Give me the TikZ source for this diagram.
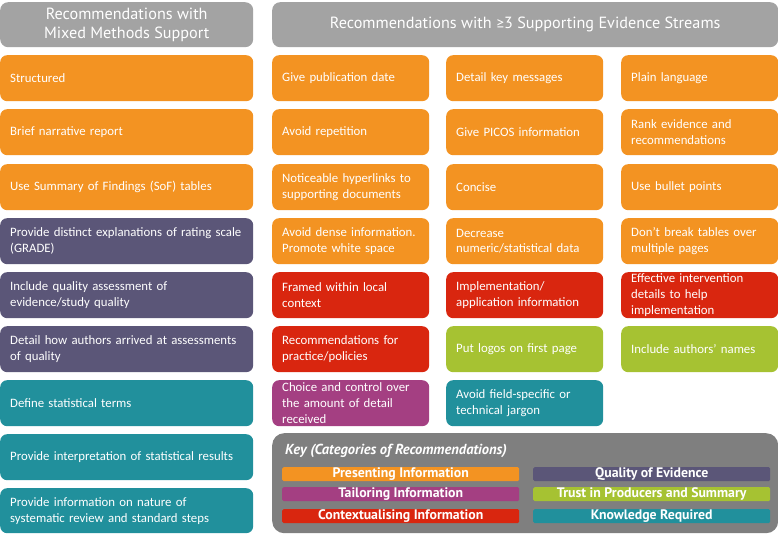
\documentclass[tikz,border=0pt]{standalone}
\usepackage{fontspec}
\setmainfont{Carlito}
\newfontfamily\hfont{PT Sans}
\definecolor{cOr}{HTML}{F39322}
\definecolor{cQu}{HTML}{5B5678}
\definecolor{cTe}{HTML}{21909C}
\definecolor{cRe}{HTML}{D9260F}
\definecolor{cGr}{HTML}{A6C232}
\definecolor{cMa}{HTML}{A43F82}
\definecolor{cHd}{HTML}{A3A3A3}
\definecolor{cKy}{HTML}{7F7F7F}
\tikzset{
  rec/.style={anchor=north west, rounded corners=7pt, text=white, font=\fontsize{12.8}{15.8}\selectfont,
    align=left, inner xsep=10pt, inner ysep=0pt, minimum height=46pt},
  wide/.style={rec, text width=233pt, minimum width=253pt},
  narrow/.style={rec, text width=137pt, minimum width=157pt},
  hdr/.style={anchor=north west, rounded corners=8pt, fill=cHd, text=white, minimum height=45pt,
    font=\hfont\fontsize{16.2}{19}\selectfont, align=center, inner sep=0pt},
  keystrip/.style={anchor=north west, rounded corners=1.5pt, minimum width=237pt, minimum height=14pt,
    inner sep=0pt, text=white, font=\hfont\bfseries\fontsize{13.8}{14}\selectfont},
}
\begin{document}
\begin{tikzpicture}[x=1pt,y=-1pt]
\useasboundingbox (0,0) rectangle (778,534);
% headers
\node[hdr, minimum width=253pt] (h1) at (0,2) {Recommendations with\\Mixed Methods Support};
\node[hdr, minimum width=506pt] (h2) at (272,2) {Recommendations with {\fontspec{Carlito}≥}3 Supporting Evidence Streams};
% column 0
\node[wide, fill=cOr] (a1) at (0,55) {Structured};
\node[wide, fill=cOr] (a2) at (0,109) {Brief narrative report};
\node[wide, fill=cOr] (a3) at (0,164) {Use Summary of Findings (SoF) tables};
\node[wide, fill=cQu] (a4) at (0,218) {Provide distinct explanations of rating scale\\(GRADE)};
\node[wide, fill=cQu] (a5) at (0,272) {Include quality assessment of\\evidence/study quality};
\node[wide, fill=cQu] (a6) at (0,326) {Detail how authors arrived at assessments\\of quality};
\node[wide, fill=cTe] (a7) at (0,380) {Define statistical terms};
\node[wide, fill=cTe] (a8) at (0,434) {Provide interpretation of statistical results};
\node[wide, fill=cTe, minimum height=45pt] (a9) at (0,488) {Provide information on nature of\\systematic review and standard steps};
% column 1
\node[narrow, fill=cOr] (b1) at (272,55) {Give publication date};
\node[narrow, fill=cOr] (b2) at (272,109) {Avoid repetition};
\node[narrow, fill=cOr] (b3) at (272,164) {Noticeable hyperlinks to\\supporting documents};
\node[narrow, fill=cOr] (b4) at (272,218) {Avoid dense information.\\Promote white space};
\node[narrow, fill=cRe] (b5) at (272,272) {Framed within local\\context};
\node[narrow, fill=cRe] (b6) at (272,326) {Recommendations for\\practice/policies};
\node[narrow, fill=cMa] (b7) at (272,380) {Choice and control over\\the amount of detail\\received};
% column 2
\node[narrow, fill=cOr] (c1) at (446,55) {Detail key messages};
\node[narrow, fill=cOr] (c2) at (446,109) {Give PICOS information};
\node[narrow, fill=cOr] (c3) at (446,164) {Concise};
\node[narrow, fill=cOr] (c4) at (446,218) {Decrease\\numeric/statistical data};
\node[narrow, fill=cRe] (c5) at (446,272) {Implementation/\\application information};
\node[narrow, fill=cGr] (c6) at (446,326) {Put logos on first page};
\node[narrow, fill=cTe] (c7) at (446,380) {Avoid field-specific or\\technical jargon};
% column 3
\node[narrow, fill=cOr] (d1) at (621,55) {Plain language};
\node[narrow, fill=cOr] (d2) at (621,109) {Rank evidence and\\recommendations};
\node[narrow, fill=cOr] (d3) at (621,164) {Use bullet points};
\node[narrow, fill=cOr] (d4) at (621,218) {Don’t break tables over\\multiple pages};
\node[narrow, fill=cRe] (d5) at (621,272) {Effective intervention\\details to help\\implementation};
\node[narrow, fill=cGr] (d6) at (621,326) {Include authors’ names};
% key
\node[anchor=north west, fill=cKy, rounded corners=12pt, minimum width=506pt, minimum height=100pt, inner sep=0pt] (key) at (272,433) {};
\node[anchor=west, text=white, font=\hfont\bfseries\itshape\fontsize{14.5}{16}\selectfont, inner sep=0pt] (kt) at (285,451) {Key (Categories of Recommendations)};
\node[keystrip, fill=cOr] (k1) at (282,467) {Presenting Information};
\node[keystrip, fill=cMa] (k2) at (282,487) {Tailoring Information};
\node[keystrip, fill=cRe] (k3) at (282,509) {Contextualising Information};
\node[keystrip, fill=cQu] (k4) at (533,467) {Quality of Evidence};
\node[keystrip, fill=cGr] (k5) at (533,487) {Trust in Producers and Summary};
\node[keystrip, fill=cTe] (k6) at (533,509) {Knowledge Required};
\end{tikzpicture}
\end{document}
